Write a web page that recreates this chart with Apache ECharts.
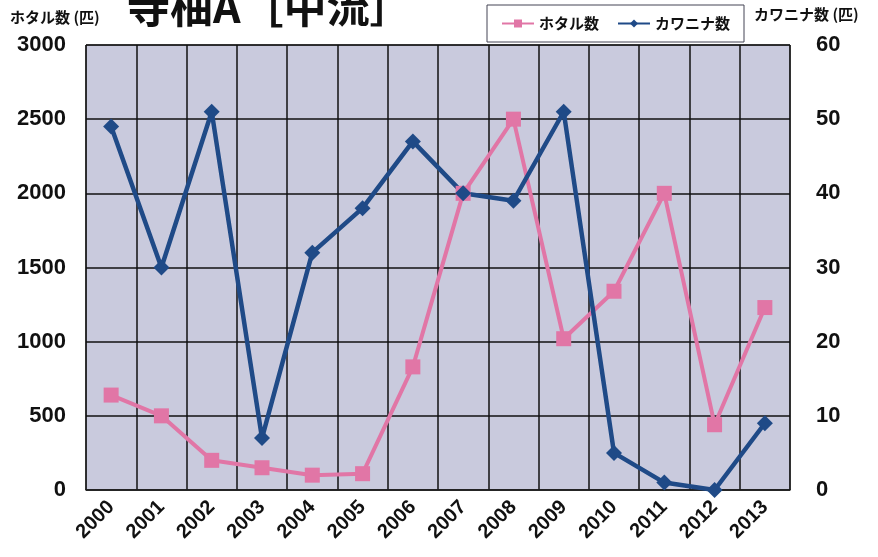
<!DOCTYPE html>
<html>
<head>
<meta charset="utf-8">
<script src="https://cdn.jsdelivr.net/npm/echarts@6/dist/echarts.min.js"></script>
<style>html,body{margin:0;padding:0;background:#fff;}#c{width:878px;height:557px;}</style>
</head>
<body>
<div id="c"></div>
<script>
const years = ['2000','2001','2002','2003','2004','2005','2006','2007','2008','2009','2010','2011','2012','2013'];
const hotaru = [640, 500, 200, 150, 100, 110, 830, 2000, 2500, 1020, 1340, 2000, 440, 1230];
const kawanina = [49, 30, 51, 7, 32, 38, 47, 40, 39, 51, 5, 1, 0, 9];
const leftTicks = [0, 3000, 500];
const rightTicks = [0, 60, 10];

const FONT = '"Liberation Sans", "Noto Sans CJK JP", sans-serif';
const JP = '"Noto Sans CJK JP", sans-serif';
const chart = echarts.init(document.getElementById('c'));
chart.setOption({
  animation: false,
  title: {
    text: '寺柚A［中流］',
    left: 122, top: -20,
    textStyle: {fontFamily: JP, fontSize: 43, fontWeight: 'bold', color: '#111'}
  },
  legend: {
    data: ['ホタル数', 'カワニナ数'],
    left: 487, top: 5, height: 38,
    padding: [11, 14, 11, 14],
    itemGap: 18, itemWidth: 32, itemHeight: 10,
    backgroundColor: '#fff', borderColor: '#445', borderWidth: 1,
    textStyle: {fontFamily: JP, fontSize: 15, fontWeight: 'bold', color: '#111'}
  },
  graphic: [
    {type: 'text', left: 10, top: 10, style: {text: 'ホタル数 (匹)', font: 'bold 15px ' + JP, fill: '#111'}},
    {type: 'text', left: 754, top: 7, style: {text: 'カワニナ数 (匹)', font: 'bold 15px ' + JP, fill: '#111'}}
  ],
  grid: {left: 86, right: 88, top: 45, bottom: 67, show: true, backgroundColor: '#c9cadd', borderColor: '#333', borderWidth: 1},
  xAxis: {
    type: 'category', data: years, boundaryGap: true,
    axisLine: {lineStyle: {color: '#222', width: 1.5}},
    axisTick: {show: false},
    splitLine: {show: true, lineStyle: {color: '#111', width: 1.5}},
    axisLabel: {rotate: 45, fontFamily: FONT, fontSize: 20, fontWeight: 'bold', color: '#111', margin: 14, interval: 0}
  },
  yAxis: [
    {type: 'value', min: leftTicks[0], max: leftTicks[1], interval: leftTicks[2],
     axisLine: {show: false}, axisTick: {show: false},
     splitLine: {lineStyle: {color: '#111', width: 1.5}},
     axisLabel: {fontFamily: FONT, fontSize: 22, fontWeight: 'bold', color: '#111', margin: 20, formatter: v => String(v)}},
    {type: 'value', min: rightTicks[0], max: rightTicks[1], interval: rightTicks[2],
     axisLine: {show: false}, axisTick: {show: false}, splitLine: {show: false},
     axisLabel: {fontFamily: FONT, fontSize: 22, fontWeight: 'bold', color: '#111', margin: 26, formatter: v => String(v)}}
  ],
  series: [
    {name: 'ホタル数', type: 'line', yAxisIndex: 0, data: hotaru,
     symbol: 'rect', symbolSize: 15,
     lineStyle: {color: '#e176a6', width: 4}, itemStyle: {color: '#e176a6'}},
    {name: 'カワニナ数', type: 'line', yAxisIndex: 1, data: kawanina,
     symbol: 'diamond', symbolSize: 16,
     lineStyle: {color: '#1f4a87', width: 4.5}, itemStyle: {color: '#1f4a87'}}
  ]
});
</script>
</body>
</html>
